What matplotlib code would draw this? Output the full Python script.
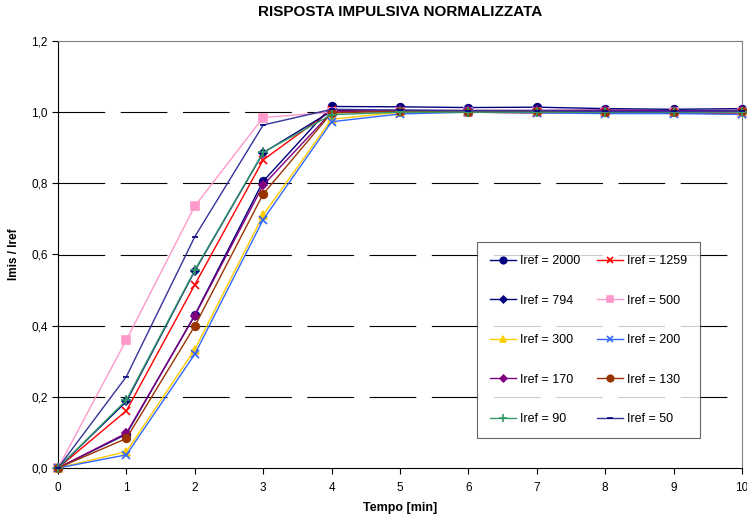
import numpy as np
import matplotlib
matplotlib.use('Agg')
import matplotlib.pyplot as plt
from matplotlib.ticker import FuncFormatter

plt.rcParams['font.family'] = ['Liberation Sans', 'DejaVu Sans']

# ── data ──
tempo = [0, 1, 2, 3, 4, 5, 6, 7, 8, 9, 10]
labels = ['Iref = 2000', 'Iref = 1259', 'Iref = 794', 'Iref = 500', 'Iref = 300',
          'Iref = 200', 'Iref = 170', 'Iref = 130', 'Iref = 90', 'Iref = 50']
r2000 = [0.0, 0.095, 0.430, 0.806, 1.016, 1.015, 1.013, 1.014, 1.010, 1.008, 1.010]
r1259 = [0.0, 0.161, 0.515, 0.866, 1.006, 1.000, 1.000, 0.998, 1.000, 0.998, 0.995]
r794 = [0.0, 0.187, 0.554, 0.886, 1.003, 1.002, 1.003, 1.004, 1.004, 1.002, 1.003]
r500 = [0.0, 0.360, 0.736, 0.985, 1.000, 1.000, 1.000, 1.000, 1.000, 1.000, 1.000]
r300 = [0.0, 0.046, 0.333, 0.711, 0.980, 1.000, 1.002, 1.004, 1.002, 1.004, 1.002]
r200 = [0.0, 0.037, 0.320, 0.698, 0.973, 0.995, 1.000, 0.998, 0.996, 0.996, 0.994]
r170 = [0.0, 0.098, 0.428, 0.795, 1.000, 1.005, 1.005, 1.005, 1.006, 1.004, 1.005]
r130 = [0.0, 0.083, 0.399, 0.770, 0.998, 1.003, 1.000, 1.002, 1.000, 1.000, 1.002]
r90 = [0.0, 0.191, 0.556, 0.887, 0.993, 1.000, 1.000, 1.000, 1.000, 1.000, 1.000]
r50 = [0.0, 0.257, 0.650, 0.964, 1.008, 1.006, 1.004, 1.004, 1.002, 1.002, 1.003]

series = [r2000, r1259, r794, r500, r300, r200, r170, r130, r90, r50]
line_c = ['#000080', '#FF0000', '#000080', '#FF99CC', '#FFCC00',
          '#3366FF', '#800080', '#993300', '#339966', '#333399']
mark_c = ['#000080', '#FF0000', '#000080', '#FF99CC', '#FFCC00',
          '#3366FF', '#800080', '#993300', '#339966', '#000080']
markers = ['o', 'x', 'D', 's', '^', 'x', 'D', 'o', '+', '_']
msizes = [5.5, 5.5, 4, 5.5, 5.5, 5.5, 4, 5.5, 6.5, 4.5]

fig = plt.figure(figsize=(7.47, 5.18), dpi=100)
ax = fig.add_axes([58/747, 50/518, 684/747, 427/518])

# dashed horizontal grid
for yv in [0.2, 0.4, 0.6, 0.8, 1.0]:
    ax.plot([0, 10], [yv, yv], color='black', lw=0.8, ls=(0, (42, 14)), zorder=1)

handles = []
for s, lc, mc, m, ms in zip(series, line_c, mark_c, markers, msizes):
    h, = ax.plot(tempo, s, color=lc, lw=1.0, marker=m, ms=ms, mfc=mc, mec=mc,
                 mew=1.2, zorder=3, clip_on=False)
    handles.append(h)

ax.set_xlim(0, 10)
ax.set_ylim(0, 1.2)
ax.set_xticks(range(0, 11))
ax.set_yticks(np.arange(0, 1.21, 0.2))
ax.yaxis.set_major_formatter(FuncFormatter(lambda v, p: f'{v:.1f}'.replace('.', ',')))
ax.tick_params(direction='out', length=4, labelsize=8.5)
ax.tick_params(axis='x', pad=6)
ax.spines['top'].set_color('#808080')
ax.spines['right'].set_color('#808080')

ax.set_xlabel('Tempo [min]', fontsize=9, fontweight='bold', labelpad=6)
ax.set_ylabel('Imis / Iref', fontsize=8.5, fontweight='bold', labelpad=8)
fig.text(400/747, 1 - 12/518, 'RISPOSTA IMPULSIVA NORMALIZZATA',
         ha='center', va='center', fontsize=11, fontweight='bold')

# legend: row-wise order in 2 columns
order = [0, 2, 4, 6, 8, 1, 3, 5, 7, 9]
leg = ax.legend([handles[i] for i in order], [labels[i] for i in order], ncol=2,
                loc='upper left', bbox_to_anchor=((477-58)/684, (468-242)/427),
                borderaxespad=0, fontsize=9, frameon=True, fancybox=False,
                edgecolor='#404040', labelspacing=2.2, handlelength=2.1,
                handletextpad=0.3, columnspacing=1.3, borderpad=1.05,
                markerscale=0.85)
leg.get_frame().set_linewidth(0.8)

plt.savefig('out.png', dpi=100)
